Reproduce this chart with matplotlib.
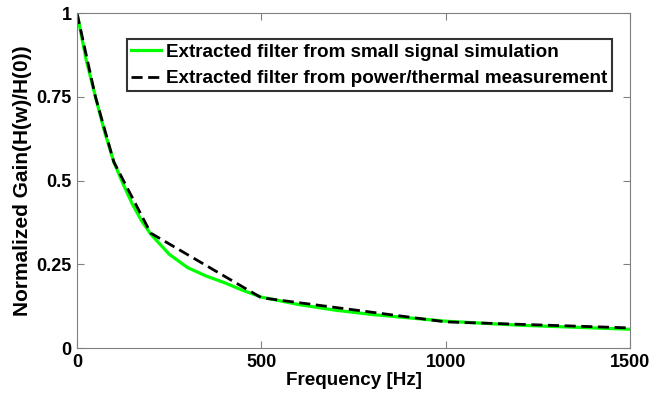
import matplotlib
matplotlib.use("Agg")
import matplotlib.pyplot as plt

freq_sim = [0, 25, 50, 75, 100, 125, 150, 175, 200, 250, 300, 350, 400, 450, 500,
            600, 700, 800, 900, 1000, 1200, 1500]
gain_sim = [1.0, 0.86, 0.75, 0.645, 0.555, 0.49, 0.43, 0.38, 0.34, 0.28, 0.24, 0.215,
            0.195, 0.172, 0.152, 0.13, 0.113, 0.10, 0.09, 0.08, 0.068, 0.056]

freq_meas = [0, 50, 100, 200, 500, 1000, 1500]
gain_meas = [1.0, 0.75, 0.555, 0.343, 0.15, 0.078, 0.06]

xticks = [0, 500, 1000, 1500]
yticks = [0, 0.25, 0.5, 0.75, 1]
ytick_labels = ["0", "0.25", "0.5", "0.75", "1"]

plt.rcParams['font.family'] = ['Liberation Sans', 'DejaVu Sans']
plt.rcParams['font.weight'] = 'bold'

fig = plt.figure(figsize=(6.66, 3.99), dpi=100)
ax = fig.add_axes([0.1156, 0.1278, 0.8304, 0.8396])

ax.plot(freq_sim, gain_sim, color='#00ff00', lw=2.3,
        label='Extracted filter from small signal simulation')
ax.plot(freq_meas, gain_meas, color='black', lw=2.0, ls=(0, (4, 2)),
        label='Extracted filter from power/thermal measurement')

ax.set_xlim(0, 1500)
ax.set_ylim(0, 1)
ax.set_xticks(xticks)
ax.set_xticklabels([str(x) for x in xticks], fontsize=13, fontweight='bold')
ax.set_yticks(yticks)
ax.set_yticklabels(ytick_labels, fontsize=13, fontweight='bold')
ax.tick_params(direction='in', top=True, right=True, length=5, color='#808080', pad=4)
for s in ax.spines.values():
    s.set_color('#808080')
    s.set_linewidth(0.8)

ax.set_xlabel('Frequency [Hz]', fontsize=13.6, fontweight='bold', labelpad=1)
ax.set_ylabel('Normalized Gain(H(w)/H(0))', fontsize=15, fontweight='bold', labelpad=3)

leg = ax.legend(loc='upper left', bbox_to_anchor=(0.0905, 0.922), fontsize=13.6,
                frameon=True, fancybox=False, edgecolor='black', handlelength=1.6,
                handletextpad=0.25, borderpad=0.22, labelspacing=0.5, borderaxespad=0)
leg.get_frame().set_linewidth(1.5)
for t in leg.get_texts():
    t.set_fontweight('bold')

fig.savefig('out.png', dpi=100)
